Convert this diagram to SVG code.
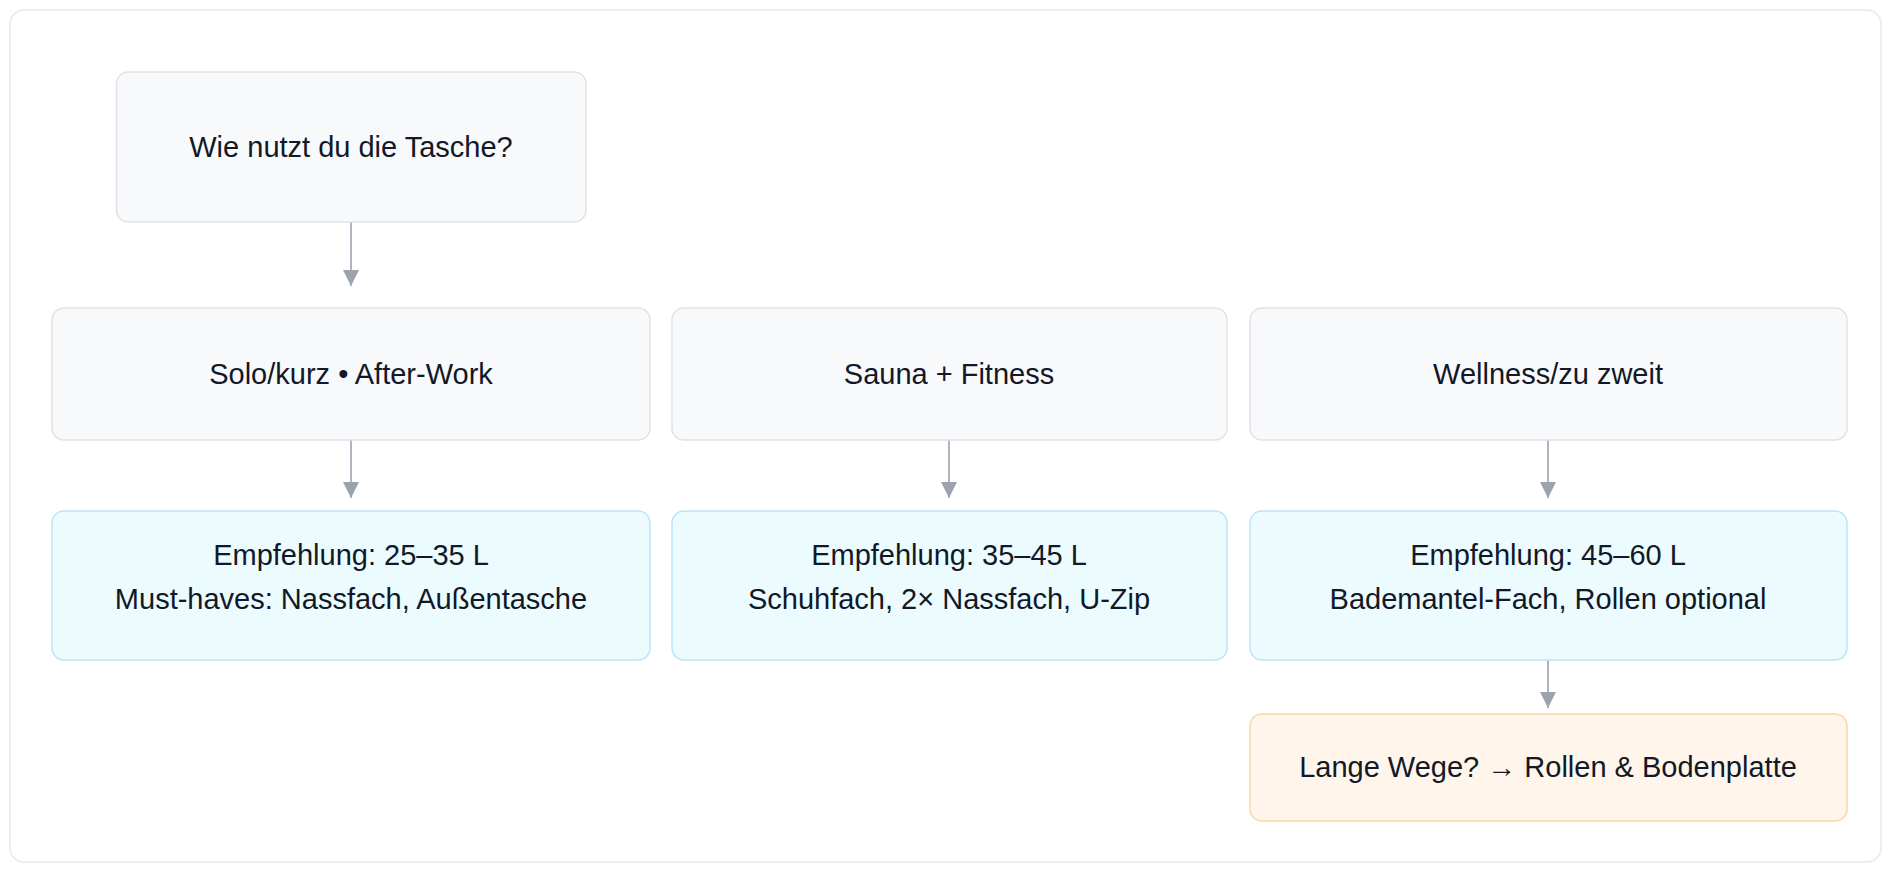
<svg xmlns="http://www.w3.org/2000/svg" width="1884" height="872" viewBox="0 0 1884 872">
<style>
.t{font-family:"Helvetica Neue","Liberation Sans",Arial,sans-serif;font-size:29px;fill:#111827;text-anchor:middle}
.g{fill:#f8f9fb;stroke:#dfe2e7;stroke-width:1.5}
.b{fill:#ecfbfe;stroke:#bde3f8;stroke-width:1.5}
.o{fill:#fff5ea;stroke:#f8d7a8;stroke-width:1.5}
.c{stroke:#9ca3af;stroke-width:1.6;fill:none}
</style>
<defs><marker id="a" viewBox="0 0 10 10" refX="10" refY="5" markerWidth="10" markerHeight="10" markerUnits="userSpaceOnUse" orient="auto"><path d="M0,0L10,5L0,10z" fill="#9ca3af"/></marker>
<marker id="m" viewBox="0 0 10 10" refX="10" refY="5" markerWidth="16" markerHeight="16" markerUnits="userSpaceOnUse" orient="auto"><path d="M0,0L10,5L0,10z" fill="#9ca3af"/></marker></defs>
<rect x="10" y="10" width="1871" height="852" rx="14" fill="#fff" stroke="#e8eaed" stroke-width="1.5"/>
<g id="connectors">
<path class="c" d="M351 222V286" marker-end="url(#m)"/>
<path class="c" d="M351 440V498" marker-end="url(#m)"/>
<path class="c" d="M949 440V498" marker-end="url(#m)"/>
<path class="c" d="M1548 440V498" marker-end="url(#m)"/>
<path class="c" d="M1548 660V708" marker-end="url(#m)"/>
</g>
<g id="q"><rect class="g" x="116.5" y="72" width="469.5" height="150" rx="12"/><text class="t" x="351" y="157">Wie nutzt du die Tasche?</text></g>
<g id="solo"><rect class="g" x="52" y="308" width="598" height="132" rx="12"/><text class="t" x="351" y="384">Solo/kurz • After-Work</text></g>
<g id="sauna"><rect class="g" x="672" y="308" width="555" height="132" rx="12"/><text class="t" x="949" y="384">Sauna + Fitness</text></g>
<g id="well"><rect class="g" x="1250" y="308" width="597" height="132" rx="12"/><text class="t" x="1548" y="384">Wellness/zu zweit</text></g>
<g id="e1"><rect class="b" x="52" y="511" width="598" height="149" rx="12"/><text class="t" x="351" y="565">Empfehlung: 25–35 L</text><text class="t" x="351" y="609">Must-haves: Nassfach, Außentasche</text></g>
<g id="e2"><rect class="b" x="672" y="511" width="555" height="149" rx="12"/><text class="t" x="949" y="565">Empfehlung: 35–45 L</text><text class="t" x="949" y="609">Schuhfach, 2× Nassfach, U-Zip</text></g>
<g id="e3"><rect class="b" x="1250" y="511" width="597" height="149" rx="12"/><text class="t" x="1548" y="565">Empfehlung: 45–60 L</text><text class="t" x="1548" y="609">Bademantel-Fach, Rollen optional</text></g>
<g id="lw"><rect class="o" x="1250" y="714" width="597" height="107" rx="12"/><text class="t" x="1548" y="777">Lange Wege? → Rollen &amp; Bodenplatte</text></g>
</svg>
